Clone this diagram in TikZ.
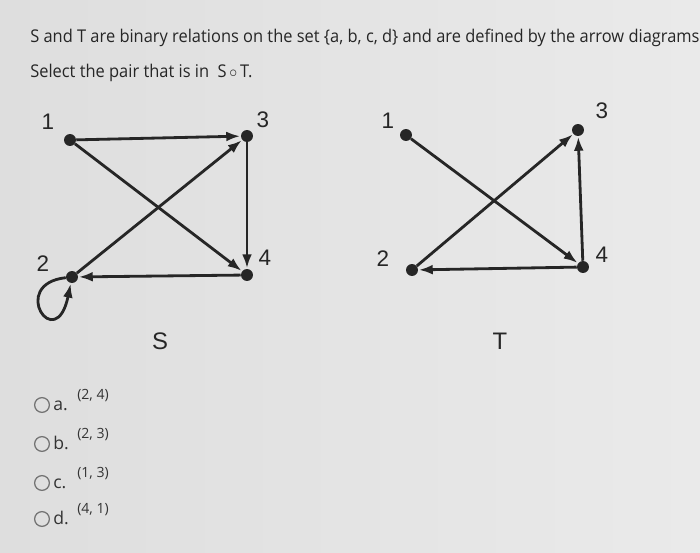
\documentclass[tikz,border=0pt]{standalone}
\usepackage{fontspec}
\setmainfont{Open Sans}
\newfontfamily\digitfont{Liberation Sans}
\usetikzlibrary{positioning,arrows.meta}

\tikzset{
  dot/.style={circle,fill=black!85,inner sep=0pt,minimum size=8.5pt},
  arr/.style={-{Latex[length=10pt,width=7pt]},line width=2pt,draw=black!85,shorten >=0.3pt},
  numlab/.style={font=\digitfont\fontsize{16}{16}\selectfont,text=black!85},
  namelab/.style={font=\digitfont\fontsize{17}{17}\selectfont,text=black!85},
  radio/.style={circle,draw=black!55,line width=0.9pt,inner sep=0pt,minimum size=10.5pt},
  optlab/.style={font=\fontsize{12.5}{12.5}\selectfont,text=black!80,anchor=base west,inner sep=0pt},
  pairlab/.style={font=\fontsize{10}{10}\selectfont,text=black!80,anchor=base west,inner sep=0pt}
}

\begin{document}
\begin{tikzpicture}[x=0.025cm,y=-0.025cm]
      % background
      \shade[left color={rgb,255:red,222;green,222;blue,222},right color={rgb,255:red,234;green,234;blue,234}]
        (0,0) rectangle (700,553);
      \useasboundingbox (0,0) rectangle (700,553);

      % Define the question text
      \node[anchor=base west,inner sep=0pt,font=\fontsize{12.5}{12.5}\selectfont,text=black!85] (q1) at (30,42)
        {\scalebox{0.935}[1]{S and T are binary relations on the set \{a, b, c, d\} and are defined by the arrow diagrams}};
      \node[anchor=base west,inner sep=0pt,font=\fontsize{12.5}{12.5}\selectfont,text=black!85] (q2) at (30,77)
        {\scalebox{0.935}[1]{Select the pair that is in\ \ S\,$\circ$\,T.}};

      % Define the nodes of S
      \node[dot] (s1) at (70,140) {};
      \node[dot] (s3) at (247,136) {};
      \node[dot] (s4) at (247,275) {};
      \node[dot] (s2) at (72,277) {};
      \node[numlab] (l1) at (48,122) {1};
      \node[numlab] (l3) at (263,120) {3};
      \node[numlab] (l2) at (43,264) {2};
      \node[numlab] (l4) at (265,258) {4};
      \node[namelab] (sname) at (160,341) {S};

      % Draw the arrows of S
      \draw[arr] (s1) -- (s3);
      \draw[arr] (s1) -- (s4);
      \draw[arr] (s2) -- (s3);
      \draw[arr] (s3) -- (s4);
      \draw[arr] (s4) -- (s2);
      \draw[arr] (s2) .. controls (8,284) and (56,356) .. (s2);

      % Define the nodes of T
      \node[dot] (t1) at (406,135) {};
      \node[dot] (t3) at (578,130) {};
      \node[dot] (t4) at (583,267) {};
      \node[dot] (t2) at (412,270) {};
      \node[numlab] (m1) at (388,121) {1};
      \node[numlab] (m3) at (602,111) {3};
      \node[numlab] (m2) at (383,259) {2};
      \node[numlab] (m4) at (602,255) {4};
      \node[namelab] (tname) at (500,341) {T};

      % Draw the arrows of T
      \draw[arr] (t1) -- (t4);
      \draw[arr] (t2) -- (t3);
      \draw[arr] (t4) -- (t3);
      \draw[arr] (t4) -- (t2);

      % Define the answer options
      \node[radio] (ra) at (42,405) {};
      \node[radio] (rb) at (42,444) {};
      \node[radio] (rc) at (42,483) {};
      \node[radio] (rd) at (42,519) {};
      \node[optlab] (oa) at (53,410) {a.};
      \node[optlab] (ob) at (53,449) {b.};
      \node[optlab] (oc) at (53,488) {c.};
      \node[optlab] (od) at (53,524) {d.};
      \node[pairlab] (pa) at (77,399) {(2, 4)};
      \node[pairlab] (pb) at (77,438) {(2, 3)};
      \node[pairlab] (pc) at (77,477) {(1, 3)};
      \node[pairlab] (pd) at (77,513) {(4, 1)};
\end{tikzpicture}
\end{document}
